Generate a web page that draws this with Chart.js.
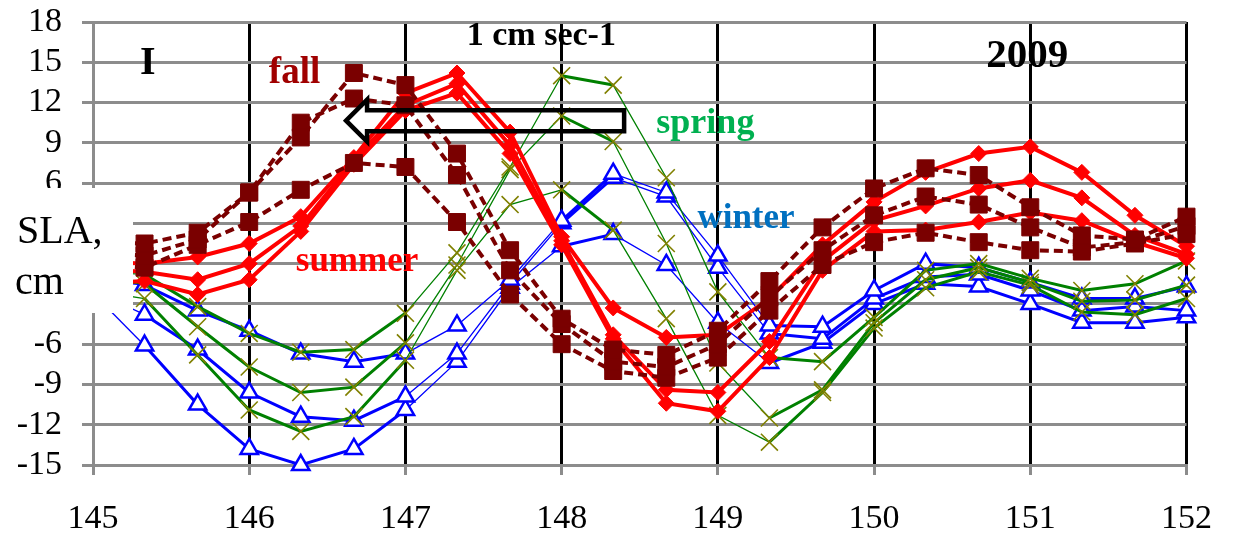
<!DOCTYPE html>
<html>
<head>
<meta charset="utf-8">
<script src="https://cdn.jsdelivr.net/npm/chart.js@4.4.1/dist/chart.umd.min.js"></script>
<style>
  html, body { margin: 0; padding: 0; background: #fff; }
  #wrap { width: 1236px; height: 537px; }
</style>
</head>
<body>
<div id="wrap"><canvas id="slaChart" width="1236" height="537"></canvas></div>
<script>
// x positions (longitude) and y ticks
const xs = [145, 145.33, 145.67, 146, 146.33, 146.67, 147, 147.33, 147.67, 148, 148.33,
            148.67, 149, 149.33, 149.67, 150, 150.33, 150.67, 151, 151.33, 151.67, 152];
const xTicks = [145, 146, 147, 148, 149, 150, 151, 152];
const yTicks = [-15, -12, -9, -6, -3, 0, 3, 6, 9, 12, 15, 18];

// fall (dark red, dashed, squares)
const fall1 = [1.6, 1.5, 2.3, 5.3, 9.4, 14.2, 13.3, 8.2, 1.0, -4.1, -6.4, -6.8, -5.0, -1.3, 2.7, 5.6, 7.1, 6.6, 4.2, 2.1, 1.8, 3.5];
const fall2 = [0.8, 0.6, 1.8, 5.3, 10.5, 12.3, 11.8, 6.6, -0.5, -4.5, -7.3, -7.7, -6.0, -2.5, 1.0, 3.6, 5.0, 4.4, 2.7, 1.2, 1.6, 2.8];
const fall3 = [0.0, -0.3, 1.4, 3.1, 5.5, 7.5, 7.2, 3.1, -2.3, -6.0, -8.0, -8.5, -7.0, -3.5, -0.1, 1.6, 2.3, 1.6, 1.0, 0.9, 1.5, 2.2];

// summer (red, diamonds)
const summer1 = [0.2, 0.0, 0.5, 1.5, 3.5, 7.9, 12.7, 14.2, 9.8, 2.0, -3.3, -5.5, -5.3, -2.6, 1.4, 4.6, 6.8, 8.2, 8.7, 6.8, 3.6, 1.3];
const summer2 = [-0.4, -0.6, -1.2, 0.0, 2.8, 7.7, 11.8, 13.4, 8.8, 1.7, -5.3, -9.4, -9.6, -5.8, 0.2, 3.2, 4.3, 5.6, 6.2, 4.9, 2.1, 0.7];
const summer3 = [-1.5, -1.3, -2.3, -1.2, 2.4, 7.4, 11.4, 12.7, 8.2, 1.4, -5.6, -10.4, -11.0, -7.0, -0.5, 2.4, 2.5, 3.1, 3.8, 3.2, 1.6, 0.4];

// spring (green lines, olive crosses)
const spring1 = [-0.6, -0.8, -3.2, -5.2, -6.6, -6.4, -3.7, 0.8, 7.2, 14.0, 13.3, 6.4, -2.1, -7.0, -7.3, -4.0, -0.5, 0.0, -1.1, -2.0, -1.5, 0.2];
const spring2 = [-1.3, -1.5, -4.7, -7.7, -9.6, -9.2, -5.9, -0.1, 7.0, 11.0, 9.1, 1.5, -7.4, -11.5, -9.4, -4.4, -1.2, -0.3, -1.4, -2.8, -2.7, -1.6];
const spring3 = [-2.0, -2.6, -6.8, -10.9, -12.5, -11.4, -7.2, -0.5, 4.4, 5.5, 2.5, -4.1, -11.3, -13.3, -9.6, -4.8, -1.8, -0.6, -1.6, -3.6, -3.8, -2.6];

// winter (blue, open triangles)
const winter1 = [-1.2, -1.6, -3.5, -5.0, -6.7, -7.3, -6.7, -4.6, -1.2, 3.2, 6.7, 5.3, 0.6, -4.6, -4.7, -2.0, 0.0, -0.3, -1.4, -2.6, -2.6, -1.7];
const winter2 = [-2.0, -3.8, -6.4, -9.6, -11.4, -11.7, -9.9, -6.7, -1.5, 3.0, 6.4, 5.0, -0.3, -5.2, -5.6, -2.6, -1.0, -0.8, -2.0, -3.5, -3.2, -3.5];
const winter3 = [-2.2, -6.1, -10.5, -13.8, -15.0, -13.8, -10.9, -7.3, -1.8, 1.3, 2.2, -0.1, -4.4, -7.4, -5.9, -3.0, -1.5, -1.7, -3.0, -4.4, -4.4, -4.0];

const serif = "'Liberation Serif', 'Times New Roman', serif";
const gridGray = '#8c8c8c';

// segments drawn with the heavy pen on spring / winter lines
const heavySegs = [1, 2, 3, 4, 5, 9, 13, 14, 15, 16, 17, 18, 19, 20];
function segWidth(ctx) {
    return heavySegs.includes(ctx.p0DataIndex) ? 3 : 1.3;
}

function pts(vals) {
    return xs.map((x, i) => ({ x: x, y: vals[i] }));
}

function fallSet(vals) {
    return {
        data: pts(vals),
        borderColor: '#7a0000',
        borderWidth: 4,
        borderDash: [9, 5],
        pointStyle: 'rect',
        pointRadius: 12,
        pointBackgroundColor: '#7a0000',
        pointBorderColor: '#7a0000',
        pointBorderWidth: 1
    };
}
function summerSet(vals) {
    return {
        data: pts(vals),
        borderColor: '#ff0000',
        borderWidth: 4,
        pointStyle: 'rectRot',
        pointRadius: 8,
        pointBackgroundColor: '#ff0000',
        pointBorderColor: '#ff0000',
        pointBorderWidth: 1
    };
}
function springSet(vals) {
    return {
        data: pts(vals),
        borderColor: '#008000',
        borderWidth: 1.3,
        segment: { borderWidth: segWidth },
        pointStyle: 'crossRot',
        pointRadius: 12,
        pointBorderColor: '#808000',
        pointBorderWidth: 1.6
    };
}
function winterSet(vals) {
    return {
        data: pts(vals),
        borderColor: '#0000ff',
        borderWidth: 1.3,
        segment: { borderWidth: segWidth },
        pointStyle: 'triangle',
        pointRadius: 10,
        pointBackgroundColor: '#ffffff',
        pointBorderColor: '#0000ff',
        pointBorderWidth: 2.5
    };
}

// text notes placed in data units
const notes = [
    { text: 'I', x: 145.35, y: 14.9, size: 40, color: '#000' },
    { text: 'fall', x: 146.29, y: 14.2, size: 37, color: '#a00000' },
    { text: '1 cm sec-1', x: 147.87, y: 16.95, size: 34, color: '#000' },
    { text: '2009', x: 150.98, y: 15.4, size: 41, color: '#000' },
    { text: 'spring', x: 148.92, y: 10.45, size: 36, color: '#00b050' },
    { text: 'winter', x: 149.18, y: 3.3, size: 35, color: '#0070c0' },
    { text: 'summer', x: 146.69, y: 0.1, size: 35, color: '#ff0000' }
];

const overlay = {
    id: 'overlay',
    afterDatasetsDraw(chart) {
        const ctx = chart.ctx;
        const x = chart.scales.x, y = chart.scales.y;
        ctx.save();

        // 1 cm/s scale arrow (hollow, pointing west)
        const tip = x.getPixelForValue(146.62);
        const tail = x.getPixelForValue(148.4);
        const yc = y.getPixelForValue(10.65);
        const neck = tip + 21;
        ctx.beginPath();
        ctx.moveTo(tip, yc);
        ctx.lineTo(neck, yc - 21);
        ctx.lineTo(neck, yc - 10.5);
        ctx.lineTo(tail, yc - 10.5);
        ctx.lineTo(tail, yc + 10.5);
        ctx.lineTo(neck, yc + 10.5);
        ctx.lineTo(neck, yc + 21);
        ctx.closePath();
        ctx.lineWidth = 4.5;
        ctx.lineJoin = 'miter';
        ctx.strokeStyle = '#000';
        ctx.stroke();

        ctx.textAlign = 'center';
        ctx.textBaseline = 'middle';
        notes.forEach(n => {
            ctx.font = 'bold ' + n.size + 'px ' + serif;
            ctx.fillStyle = n.color;
            ctx.fillText(n.text, x.getPixelForValue(n.x), y.getPixelForValue(n.y));
        });

        // axis title box
        const left = chart.chartArea.left;
        ctx.fillStyle = '#fff';
        ctx.fillRect(0, 188, left + 40, 125);
        ctx.fillStyle = '#000';
        ctx.font = '40px ' + serif;
        ctx.textAlign = 'left';
        ctx.textBaseline = 'alphabetic';
        ctx.fillText('SLA,', 17, 243);
        ctx.fillText('cm', 15, 294);
        ctx.restore();
    }
};

const ctxSla = document.getElementById('slaChart').getContext('2d');
const slaChart = new Chart(ctxSla, {
    type: 'line',
    data: {
        datasets: [
            fallSet(fall1), fallSet(fall2), fallSet(fall3),
            summerSet(summer1), summerSet(summer2), summerSet(summer3),
            springSet(spring1), springSet(spring2), springSet(spring3),
            winterSet(winter1), winterSet(winter2), winterSet(winter3)
        ]
    },
    options: {
        responsive: false,
        devicePixelRatio: 1,
        animation: false,
        events: [],
        layout: { padding: { top: 22, right: 49, left: 0, bottom: 0 } },
        datasets: { line: { clip: false, tension: 0, fill: false } },
        plugins: { legend: { display: false }, tooltip: { enabled: false } },
        scales: {
            x: {
                type: 'linear',
                min: 145,
                max: 152,
                afterBuildTicks: s => { s.ticks = xTicks.map(v => ({ value: v })); },
                afterFit: s => { s.height = 72; },
                ticks: { color: '#000', font: { family: serif, size: 34 }, padding: 24, maxRotation: 0, autoSkip: false },
                grid: {
                    color: c => (c.tick && c.tick.value === 145) ? gridGray : '#000',
                    lineWidth: 3,
                    tickColor: gridGray,
                    tickLength: 10
                },
                border: { color: gridGray, width: 3 }
            },
            y: {
                min: -15,
                max: 18,
                afterBuildTicks: s => { s.ticks = yTicks.map(v => ({ value: v })); },
                afterFit: s => { s.width = 93; s.paddingTop = 0; s.paddingBottom = 0; },
                ticks: { color: '#000', font: { family: serif, size: 34 }, padding: 20, autoSkip: false },
                grid: { color: gridGray, lineWidth: 3, tickColor: gridGray, tickLength: 11 },
                border: { color: gridGray, width: 3 }
            }
        }
    },
    plugins: [overlay]
});
</script>
</body>
</html>
